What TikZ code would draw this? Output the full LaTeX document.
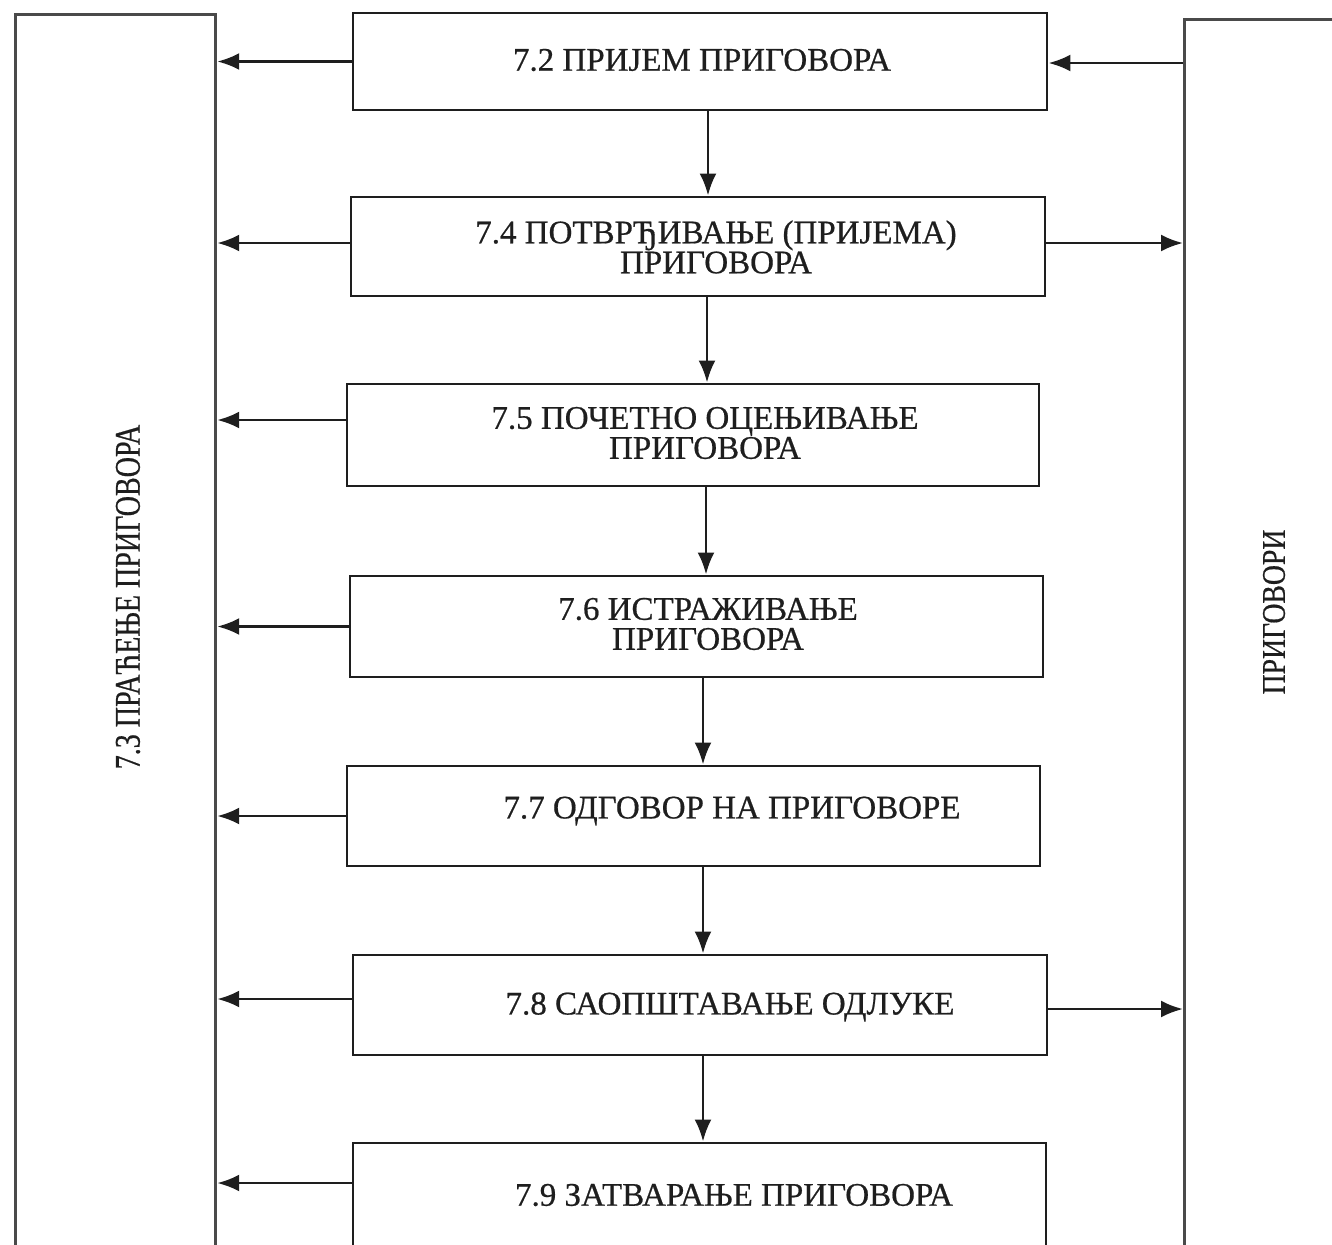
\documentclass[tikz,border=0pt]{standalone}
\usepackage{fontspec}
\setmainfont{Liberation Serif}
\newfontfamily\boxserif[FakeStretch=1.0, FakeBold=0.6]{Liberation Serif}
\newfontfamily\sideserif[FakeStretch=0.78, FakeBold=0.6]{Liberation Serif}
\newfontfamily\claimserif[FakeStretch=0.84, FakeBold=0.6]{Liberation Serif}
\usetikzlibrary{arrows.meta}
\definecolor{inkgray}{HTML}{1E1E1E}
\definecolor{framegray}{HTML}{4A4A4A}
\tikzset{
  stage/.style={draw=inkgray, line width=1.45pt, inner sep=0pt, minimum width=347pt},
  column/.style={draw=framegray, line width=1.6pt, inner sep=0pt, anchor=north west},
  txt/.style={font=\boxserif\fontsize{16.5}{15}\selectfont, text=inkgray, align=center, inner sep=0pt},
  sidetxt/.style={txt, rotate=90},
  flow/.style={-{Latex[length=11pt,width=8.5pt]}, line width=1.4pt, draw=inkgray}
}
\newcommand{\downarr}[3]{\draw[flow] ([xshift=#3]#1.south) -- ([xshift=#3]#1.south |- #2.north);}
\newcommand{\leftarr}[2]{\draw[flow] ([yshift=#2]#1.west) -- ([yshift=#2]track.east |- #1.west);}

\begin{document}
\begin{tikzpicture}[x=0.5pt, y=-0.5pt]
		\useasboundingbox (0,0) rectangle (1332,1244);
		\clip (0,0) rectangle (1332,1244);
		% side columns
		\node[column, minimum width=100pt, minimum height=630pt] (track) at (14,13) {};
		\node[column, minimum width=90pt, minimum height=630pt] (claims) at (1183,18) {};
		\node[sidetxt, font=\sideserif\fontsize{18}{18}\selectfont] (tracklab) at (128,597) {7.3 ПРАЋЕЊЕ ПРИГОВОРА};
		\node[sidetxt, font=\claimserif\fontsize{16.5}{15}\selectfont] (claimslab) at (1274,612) {ПРИГОВОРИ};
		% stages
		\node[stage, minimum height=48.5pt] (b72) at (700,61.5) {};
		\node[stage, minimum height=49.5pt] (b74) at (698,246.5) {};
		\node[stage, minimum height=51pt, minimum width=346pt] (b75) at (693,435) {};
		\node[stage, minimum height=50.5pt, minimum width=346.5pt] (b76) at (696.5,626.5) {};
		\node[stage, minimum height=50pt, minimum width=346.5pt] (b77) at (693.5,816) {};
		\node[stage, minimum height=50pt] (b78) at (700,1005) {};
		\node[stage, minimum height=52pt, minimum width=346.5pt] (b79) at (699.5,1195) {};
		\node[txt] (t72) at (702,60) {7.2 ПРИЈЕМ ПРИГОВОРА};
		\node[txt] (t74) at (716,247) {7.4 ПОТВРЂИВАЊЕ (ПРИЈЕМА)\\ПРИГОВОРА};
		\node[txt] (t75) at (705,433) {7.5 ПОЧЕТНО ОЦЕЊИВАЊЕ\\ПРИГОВОРА};
		\node[txt] (t76) at (708,624) {7.6 ИСТРАЖИВАЊЕ\\ПРИГОВОРА};
		\node[txt] (t77) at (732,811) {7.7 ОДГОВОР НА ПРИГОВОРЕ};
		\node[txt] (t78) at (730,1007) {7.8 САОПШТАВАЊЕ ОДЛУКЕ};
		\node[txt] (t79) at (734,1195) {7.9 ЗАТВАРАЊЕ ПРИГОВОРА};
		% main flow
		\downarr{b72}{b74}{4pt}
		\downarr{b74}{b75}{4.5pt}
		\downarr{b75}{b76}{6.5pt}
		\downarr{b76}{b77}{3.25pt}
		\downarr{b77}{b78}{4.75pt}
		\downarr{b78}{b79}{1.5pt}
		% to tracking
		\leftarr{b72}{0pt}
		\leftarr{b74}{1.75pt}
		\leftarr{b75}{7.5pt}
		\leftarr{b76}{0pt}
		\leftarr{b77}{0pt}
		\leftarr{b78}{3pt}
		\leftarr{b79}{6pt}
		% claims side
		\draw[flow] ([yshift=-0.75pt]claims.west |- b72.east) -- ([yshift=-0.75pt]b72.east);
		\draw[flow] ([yshift=1.75pt]b74.east) -- ([yshift=1.75pt]claims.west |- b74.east);
		\draw[flow] ([yshift=-2pt]b78.east) -- ([yshift=-2pt]claims.west |- b78.east);
	\end{tikzpicture}
\end{document}
